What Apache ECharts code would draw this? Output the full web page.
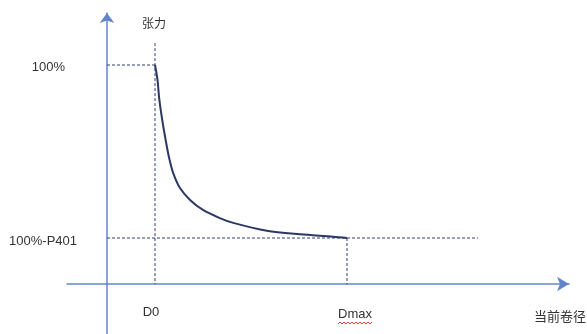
<!DOCTYPE html>
<html>
<head>
<meta charset="utf-8">
<script src="https://cdn.jsdelivr.net/npm/echarts@6/dist/echarts.min.js"></script>
<style>html,body{margin:0;padding:0;background:#fff}#c{width:587px;height:334px}</style>
</head>
<body>
<div id="c"></div>
<script>
// ---- data ----
var curveD = [1, 1.05, 1.09, 1.15, 1.22, 1.29, 1.38, 1.52, 1.73, 2.0, 2.35, 2.63, 3.33, 4.02, 4.71, 5];
var curveT = [100, 93.5, 84.3, 75, 66, 58, 50.6, 43.8, 38.4, 33.8, 30.1, 27.9, 24.3, 22.7, 21.6, 21];
var D0 = 1, DMAX = 5;
var T_MAX = 100, T_MIN = 21;
var D0_TOP = 110;       // top of the D0 guide line
var LOW_END = 7.73;     // right end of the 100%-P401 guide line
var xTickValues = [D0, DMAX];
var xTickLabels = ['D0', 'Dmax'];
var yTickValues = [T_MIN, T_MAX];
var yTickLabels = ['100%-P401', '100%'];
var xName = '当前卷径', yName = '张力';

var font = '"Liberation Sans", Arial, "Noto Sans CJK SC", sans-serif';
var cjk = '"Noto Sans CJK SC", sans-serif';
var axisColor = '#6485cb';
var guide = {color: '#2f4070', width: 1, type: [3, 2]};

function pairs(xs, ys) { return xs.map(function (x, i) { return [x, ys[i]]; }); }
function guideSeries(data) {
  return {type: 'line', data: data, symbol: 'none', lineStyle: guide, silent: true, z: 1};
}

var chart = echarts.init(document.getElementById('c'), null, {renderer: 'canvas'});
chart.setOption({
  animation: false,
  grid: {left: 67, right: 18, top: 13, bottom: 0, containLabel: false, outerBoundsMode: 'none'},
  xAxis: {
    type: 'value', min: -40 / 48, max: 462 / 48,
    splitLine: {show: false}, axisTick: {show: false},
    axisLine: {onZero: true, symbol: ['none', 'arrow'], symbolSize: [11, 12],
      lineStyle: {color: axisColor, width: 1.5}},
    axisLabel: {
      customValues: xTickValues, margin: -28, color: '#333',
      formatter: function (v) {
        var i = xTickValues.indexOf(v);
        return i === 0 ? '{a|' + xTickLabels[0] + '}' : '{b|' + xTickLabels[1] + '}';
      },
      rich: {
        a: {fontFamily: font, fontSize: 13, color: '#333', padding: [0, 8, 0, 0]},
        b: {fontFamily: font, fontSize: 13, color: '#333', padding: [2, 0, 0, 16]}
      }
    },
    name: xName, nameLocation: 'end', nameGap: -9, nameMoveOverlap: false,
    nameTextStyle: {fontFamily: cjk, fontSize: 13, color: '#333', align: 'center', verticalAlign: 'top', padding: [26, 0, 0, 0]}
  },
  yAxis: {
    type: 'value', min: -50 / 2.19, max: 271 / 2.19,
    splitLine: {show: false}, axisTick: {show: false},
    axisLine: {onZero: true, symbol: ['none', 'arrow'], symbolSize: [11, 10],
      lineStyle: {color: axisColor, width: 1.5}},
    axisLabel: {
      customValues: yTickValues, margin: -10, color: '#333',
      formatter: function (v) {
        var i = yTickValues.indexOf(v);
        return i === 0 ? '{a|' + yTickLabels[0] + '}' : '{b|' + yTickLabels[1] + '}';
      },
      rich: {
        a: {fontFamily: font, fontSize: 13, color: '#333', padding: [6, 0, 0, 0]},
        b: {fontFamily: font, fontSize: 13, color: '#333', padding: [4, 12, 0, 0]}
      }
    },
    name: yName, nameLocation: 'end', nameGap: -10,
    nameTextStyle: {fontFamily: cjk, fontSize: 12, color: '#333', align: 'left', verticalAlign: 'middle', padding: [0, 0, 0, 35]}
  },
  series: [
    guideSeries([[0, T_MAX], [D0, T_MAX]]),
    guideSeries([[D0, D0_TOP], [D0, 0]]),
    guideSeries([[0, T_MIN], [LOW_END, T_MIN]]),
    guideSeries([[DMAX, T_MIN], [DMAX, 0]]),
    {type: 'line', data: pairs(curveD, curveT), smooth: 0.3, symbol: 'none',
      lineStyle: {color: '#2b3862', width: 2}, z: 3}
  ]
});

// spell-check style wavy underline under the "Dmax" label (decoration only)
var px = chart.convertToPixel({xAxisIndex: 0}, DMAX);
var wave = [];
for (var k = 0; k <= 17; k++) { wave.push([px - 9 + k * 2, 323 + (k % 2 ? -1 : 1)]); }
chart.setOption({graphic: [{type: 'polyline', shape: {points: wave}, style: {stroke: '#e04040', lineWidth: 1, fill: null}, silent: true}]});
</script>
</body>
</html>
